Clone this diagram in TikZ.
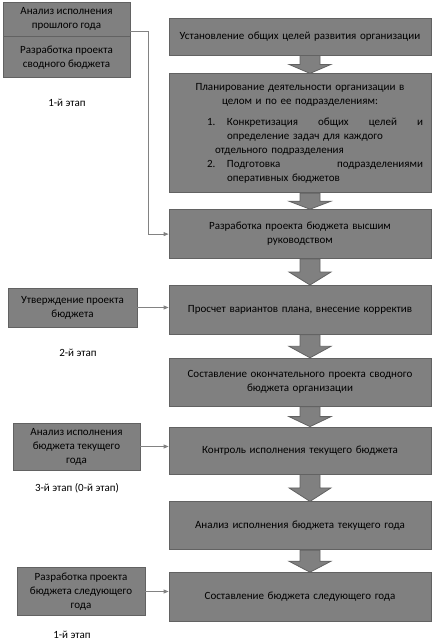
\documentclass[tikz,border=0pt]{standalone}
\usepackage{fontspec}
\setmainfont{Carlito}
\usetikzlibrary{positioning, calc}
\usetikzlibrary{arrows.meta}

\definecolor{boxgray}{RGB}{128,128,128}
\definecolor{edgegray}{RGB}{98,98,98}
\definecolor{linkgray}{RGB}{130,130,130}

% thick block arrow from the bottom of #1 to the top of #2
\newcommand{\bigarrow}[2]{%
  \draw[fatarrow] let \p1=(#1.south), \p2=(#2.north), \n1={0.5*(\y2-\y1)} in
    (\x1,\y1) -- (\x1+20pt,\y1) -- (\x1+20pt,\y1+\n1) -- (\x1+31pt,\y1+\n1)
    -- (\x1+10pt,\y2) -- (\x1-11pt,\y1+\n1) -- (\x1,\y1+\n1) -- cycle;}

\begin{document}
\begin{tikzpicture}[x=1pt, y=-1pt,
	every node/.style={font=\fontsize{11pt}{14pt}\selectfont},
	mainbox/.style={draw=edgegray, fill=boxgray, line width=0.8pt, minimum width=262pt, text width=250pt, align=center, inner sep=0pt},
	sidebox/.style={draw=edgegray, fill=boxgray, line width=0.8pt, minimum width=127pt, align=center, inner sep=0pt},
	fatarrow/.style={draw=edgegray, fill=boxgray, line width=0.8pt},
	link/.style={draw=linkgray, line width=0.8pt, -{Triangle[length=5pt,width=4pt]}}]
	\useasboundingbox (0,0) rectangle (435,640);

	% main column
	\node[mainbox, minimum height=37pt] (goals) at (300,36.5) {Установление общих целей развития организации};
	\node[mainbox, minimum height=119pt, text width=262pt, align=left, below=18pt of goals] (plan) {%
		\makebox[262pt]{Планирование деятельности организации в}\\
		\makebox[262pt]{целом и по ее подразделениям:}\\[7pt]
		\hspace*{38pt}\makebox[20pt][l]{1.}\hbox to 196pt{Конкретизация\hfill общих\hfill целей\hfill и}\\
		\hspace*{58pt}определение задач для каждого\\
		\hspace*{46pt}отдельного подразделения\\
		\hspace*{38pt}\makebox[20pt][l]{2.}\hbox to 196pt{Подготовка\hfill подразделениями}\\
		\hspace*{58pt}оперативных бюджетов};
	\node[mainbox, minimum height=49pt, below=16pt of plan] (topdraft) {Разработка проекта бюджета высшим\\руководством};
	\node[mainbox, minimum height=49pt, below=26pt of topdraft] (recalc) {Просчет вариантов плана, внесение корректив};
	\node[mainbox, minimum height=48pt, below=23pt of recalc] (final) {Составление окончательного проекта сводного\\бюджета организации};
	\node[mainbox, minimum height=47pt, below=20pt of final] (control) {Контроль исполнения текущего бюджета};
	\node[mainbox, minimum height=48pt, below=27pt of control] (analysis) {Анализ исполнения бюджета текущего года};
	\node[mainbox, minimum height=49pt, below=22pt of analysis] (nextyear) {Составление бюджета следующего года};

	% left column
	\node[sidebox, minimum height=34pt] (prev) at (66.5,19) {Анализ исполнения\\прошлого года};
	\node[sidebox, minimum height=41pt, below=0pt of prev] (draft) {Разработка проекта\\сводного бюджета};
	\node[sidebox, minimum width=129pt, minimum height=39pt] (approve) at (72.5,307.5) {Утверждение проекта\\бюджета};
	\node[sidebox, minimum height=47pt] (curanal) at (76.5,446.5) {Анализ исполнения\\бюджета текущего\\года};
	\node[sidebox, minimum width=128pt, minimum height=48pt] (nextdraft) at (81,591.5) {Разработка проекта\\бюджета следующего\\года};

	% stage labels
	\node (st1) at (67,103) {1-й этап};
	\node (st2) at (78,353) {2-й этап};
	\node (st3) at (77,488) {3-й этап (0-й этап)};
	\node (st4) at (72,635) {1-й этап};

	% block arrows
	\bigarrow{goals}{plan}
	\bigarrow{plan}{topdraft}
	\bigarrow{topdraft}{recalc}
	\bigarrow{recalc}{final}
	\bigarrow{final}{control}
	\bigarrow{control}{analysis}
	\bigarrow{analysis}{nextyear}

	% thin connectors
	\draw[link] ([yshift=5pt]prev.south east) -- ++(18,0) |- (topdraft.west);
	\draw[link] (approve.east) -- (approve.east -| recalc.west);
	\draw[link] (curanal.east) -- (curanal.east -| control.west);
	\draw[link] (nextdraft.east) -- (nextdraft.east -| nextyear.west);
\end{tikzpicture}
\end{document}
